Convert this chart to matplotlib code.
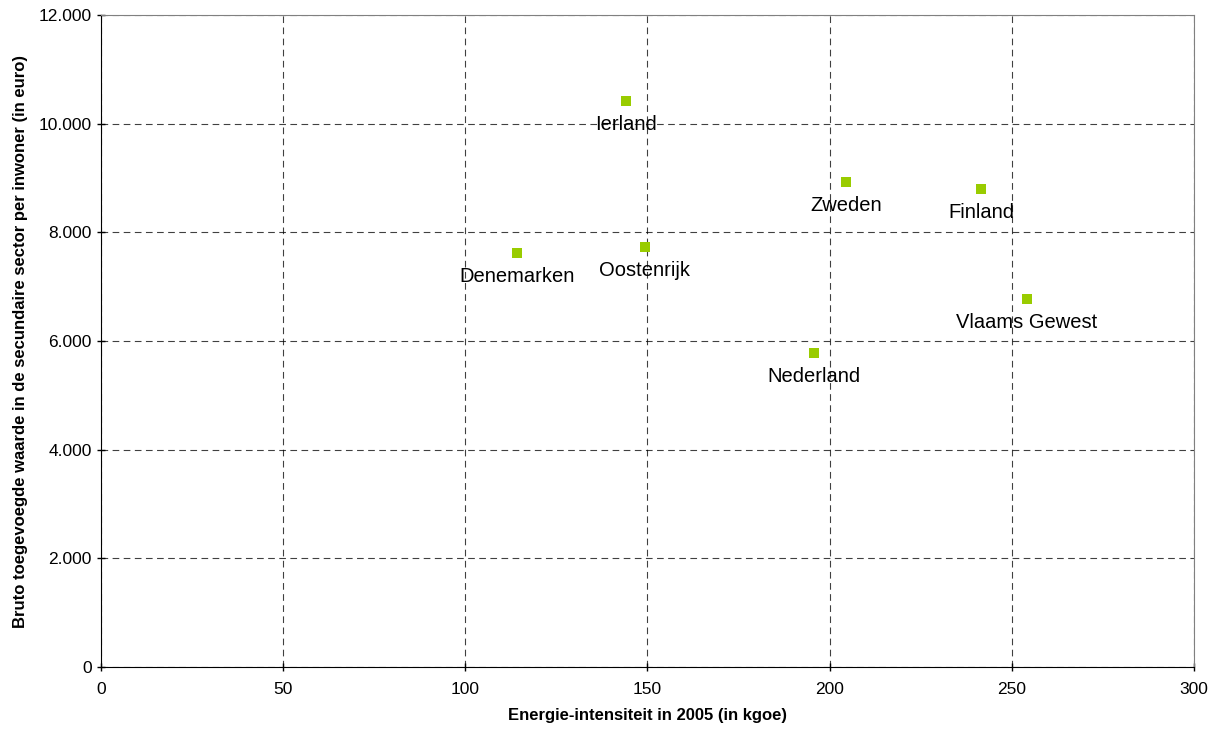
import matplotlib
matplotlib.use("Agg")
import matplotlib.pyplot as plt
from matplotlib.ticker import FuncFormatter

plt.rcParams['font.family'] = ['Liberation Sans', 'DejaVu Sans']

# data
landen = ['Ierland', 'Denemarken', 'Oostenrijk', 'Zweden', 'Finland', 'Vlaams Gewest', 'Nederland']
energie = [144.0, 114.1, 149.3, 204.5, 241.6, 254.2, 195.7]
waarde = [10420, 7620, 7730, 8930, 8800, 6780, 5780]

fig = plt.figure(figsize=(12.17, 7.31), dpi=100)
ax = fig.add_axes([0.083, 0.088, 0.898, 0.891])

ax.scatter(energie, waarde, marker='s', s=55, color='#99CC00', zorder=3, linewidths=0)
for naam, x, y in zip(landen, energie, waarde):
    ax.annotate(naam, xy=(x, y), xytext=(0, -17), textcoords='offset points',
                ha='center', va='center', fontsize=14.5, color='black', zorder=4)

ax.set_xlim(0, 300)
ax.set_ylim(0, 12000)
ax.set_xticks(range(0, 301, 50))
ax.set_yticks(range(0, 12001, 2000))
ax.yaxis.set_major_formatter(FuncFormatter(lambda v, p: f"{int(v):,}".replace(',', '.')))
ax.tick_params(axis='both', labelsize=12.5, direction='inout', length=6, width=1, color='black')
ax.tick_params(axis='x', pad=8)

ax.grid(True, color='black', linestyle=(0, (6, 4)), linewidth=0.8, alpha=0.75)
ax.set_axisbelow(True)

ax.spines['left'].set_color('black')
ax.spines['bottom'].set_color('black')
ax.spines['top'].set_color('#808080')
ax.spines['right'].set_color('#808080')

ax.set_xlabel('Energie-intensiteit in 2005 (in kgoe)', fontsize=12, fontweight='bold', labelpad=8)
ax.set_ylabel('Bruto toegevoegde waarde in de secundaire sector per inwoner (in euro)',
              fontsize=12, fontweight='bold', labelpad=8)

fig.savefig('out.png', dpi=100)
